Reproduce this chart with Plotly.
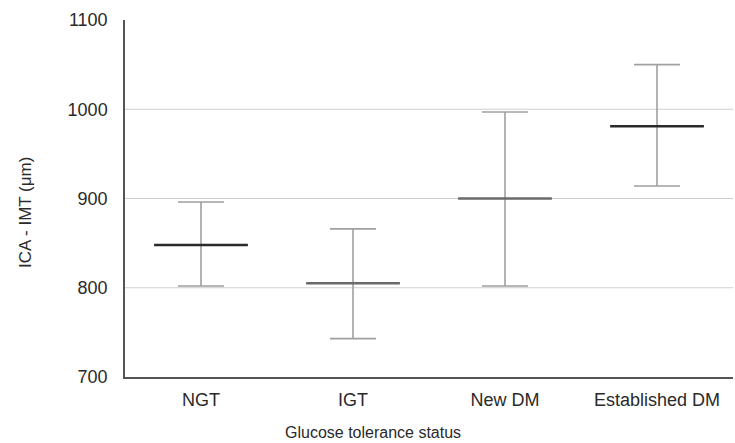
import plotly.graph_objects as go

categories = ["NGT", "IGT", "New DM", "Established DM"]
means = [848, 805, 900, 981]
upper = [896, 866, 997, 1050]
lower = [802, 743, 802, 914]
grid_vals = [800, 900, 1000]
y_ticks = [700, 800, 900, 1000, 1100]

err_plus = [u - m for u, m in zip(upper, means)]
err_minus = [m - l for m, l in zip(means, lower)]

fig = go.Figure()

# error bars (whiskers)
fig.add_trace(go.Scatter(
    x=categories, y=means, mode="markers",
    marker=dict(size=0.1, color="rgba(0,0,0,0)"),
    error_y=dict(type="data", symmetric=False, array=err_plus, arrayminus=err_minus,
                 color="#a0a0a0", thickness=1.6, width=23),
    showlegend=False, hoverinfo="skip",
))
# mean lines
fig.add_trace(go.Scatter(
    x=categories, y=means, mode="markers",
    marker=dict(symbol="line-ew", size=67,
                line=dict(width=2.5, color=["#2a2a2a", "#6a6a6a", "#6a6a6a", "#2a2a2a"])),
    showlegend=False,
))

for g in grid_vals:
    fig.add_shape(type="line", xref="paper", yref="y", x0=0, x1=1, y0=g, y1=g,
                  line=dict(color="#cfcfcf", width=1), layer="below")

fig.add_annotation(text="Glucose tolerance status", xref="paper", yref="paper",
                   x=0.408, y=-0.155, xanchor="center", yanchor="middle", showarrow=False,
                   font=dict(size=16, color="#2a2a2a"))
fig.add_annotation(text="ICA - IMT (μm)", xref="paper", yref="paper",
                   x=-0.164, y=0.46, xanchor="center", yanchor="middle", showarrow=False,
                   textangle=-90, font=dict(size=17, color="#2a2a2a"))

fig.update_layout(
    width=735, height=443,
    margin=dict(l=125, r=2, t=20, b=66),
    paper_bgcolor="white", plot_bgcolor="white",
    font=dict(family="Liberation Sans, Arial, sans-serif", color="#2a2a2a"),
    xaxis=dict(
        type="category", range=[-0.5, 3.5], showgrid=False, automargin=False,
        showline=True, linecolor="#555555", linewidth=1.5,
        ticks="", ticklabelstandoff=6, tickfont=dict(size=18, color="#2a2a2a"),
    ),
    yaxis=dict(
        range=[700, 1100], tickvals=y_ticks, showgrid=False, zeroline=False, automargin=False,
        showline=True, linecolor="#555555", linewidth=1.5,
        ticks="", ticklabelstandoff=12, tickfont=dict(size=18, color="#2a2a2a"),
    ),
)

fig.write_html("out.html", config={"displayModeBar": False},
               post_script="document.body.style.margin='0';document.body.style.overflow='hidden';")
